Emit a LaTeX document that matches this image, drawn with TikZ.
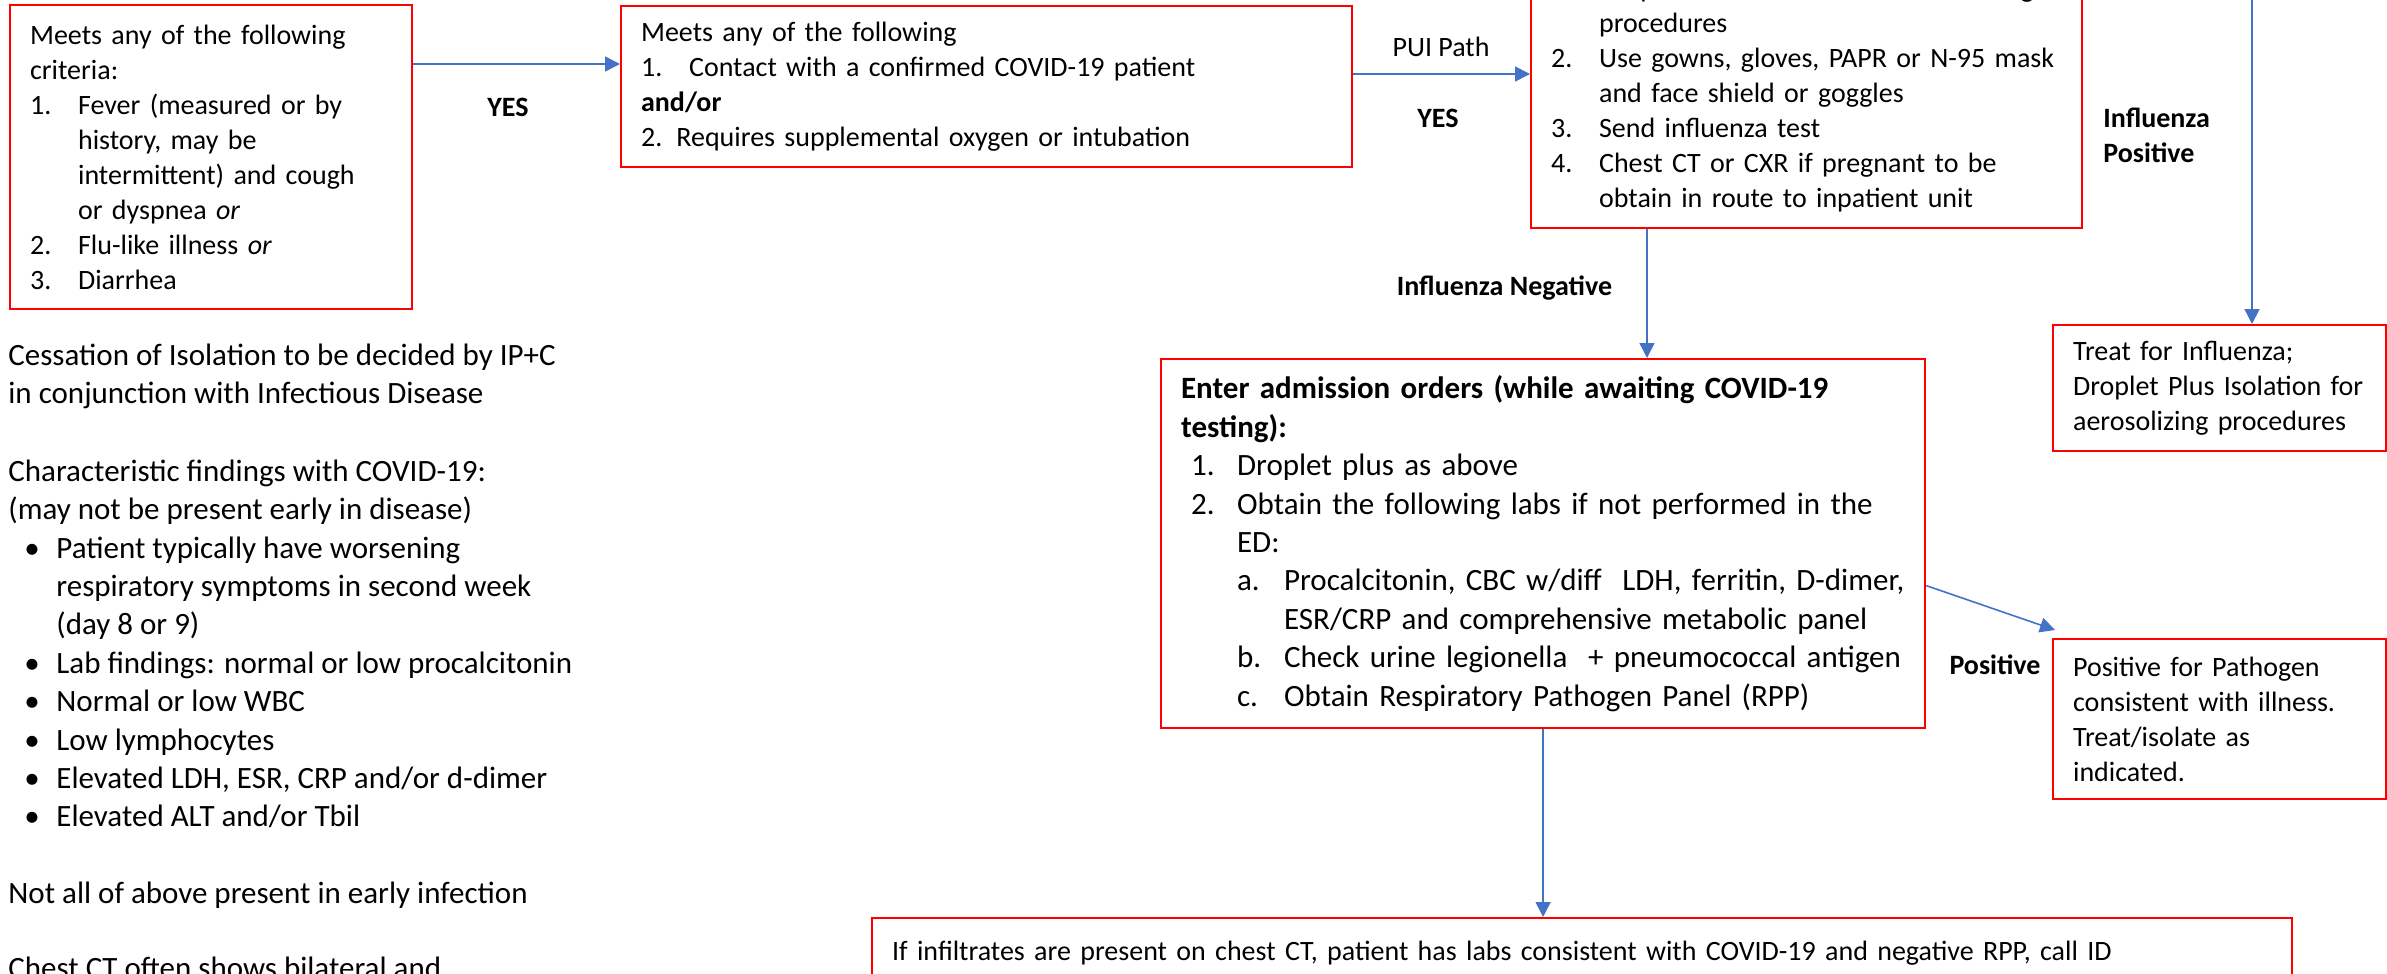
\documentclass[tikz,border=0pt]{standalone}
\usepackage{fontspec}
\setmainfont{Carlito}
\usetikzlibrary{arrows.meta}

\definecolor{boxred}{RGB}{255,0,0}
\definecolor{arrblue}{RGB}{68,114,196}

\newcommand{\itm}[3][24pt]{\makebox[#1][l]{#2}#3}
\newcommand{\cnt}[2][24pt]{\hspace*{#1}#2}
\newcommand{\blt}[1]{\hspace*{8pt}\makebox[16pt][l]{\textbullet}#1}

\begin{document}
\begin{tikzpicture}[x=0.5pt,y=-0.5pt,
  box/.style={draw=boxred, line width=1.1pt, anchor=north west, align=left,
    inner xsep=10pt, inner ysep=0pt, font=\fontsize{14}{17.5}\selectfont},
  note/.style={anchor=west, align=left, inner sep=0pt, font=\fontsize{15.5}{19.2}\selectfont},
  lbl/.style={inner sep=0pt, font=\fontsize{14}{17.5}\selectfont},
  bf/.style={font=\fontsize{14}{17.5}\selectfont\bfseries},
  arr/.style={-{Triangle[length=7.5pt,width=7.5pt]}, draw=arrblue, line width=0.8pt}]
%\draw[step=50,gray,very thin] (0,0) grid (2387,974);
\useasboundingbox[fill=white] (0,0) rectangle (2387,974);

% boxes of the flow
\node[box, text width=181pt, minimum height=152pt] (crit) at (9,4)
  {Meets any of the following\\criteria:\\
   \itm{1.}{Fever (measured or by}\\ \cnt{history, may be}\\
   \cnt{intermittent) and cough}\\ \cnt{or dyspnea \emph{or}}\\
   \itm{2.}{Flu-like illness \emph{or}}\\ \itm{3.}{Diarrhea}};
\node[box, text width=345.5pt, minimum height=80.5pt] (contact) at (620,5)
  {Meets any of the following\\
   \itm{1.}{Contact with a confirmed COVID-19 patient}\\
   \textbf{and/or}\\
   2. Requires supplemental oxygen or intubation};
\node[box, text width=255.5pt, minimum height=133.5pt] (droplet) at (1530,-40)
  {\itm{1.}{Droplet Plus Isolation for aerosolizing}\\ \cnt{procedures}\\
   \itm{2.}{Use gowns, gloves, PAPR or N-95 mask}\\ \cnt{and face shield or goggles}\\
   \itm{3.}{Send influenza test}\\
   \itm{4.}{Chest CT or CXR if pregnant to be}\\ \cnt{obtain in route to inpatient unit}};
\node[box, text width=146.5pt, minimum height=63pt] (treat) at (2052,324)
  {Treat for Influenza;\\Droplet Plus Isolation for\\aerosolizing procedures};
\node[box, text width=362pt, minimum height=184.5pt, font=\fontsize{15.5}{19.2}\selectfont] (admit) at (1160,358)
  {\textbf{Enter admission orders (while awaiting COVID-19}\\ \textbf{testing):}\\
   \cnt[5pt]{\itm[23pt]{1.}{Droplet plus as above}}\\
   \cnt[5pt]{\itm[23pt]{2.}{Obtain the following labs if not performed in the}}\\
   \cnt[28pt]{ED:}\\
   \cnt[28pt]{\itm[23.5pt]{a.}{Procalcitonin, CBC w/diff\ \ LDH, ferritin, D-dimer,}}\\
   \cnt[51.5pt]{ESR/CRP and comprehensive metabolic panel}\\
   \cnt[28pt]{\itm[23.5pt]{b.}{Check urine legionella\ \ + pneumococcal antigen}}\\
   \cnt[28pt]{\itm[23.5pt]{c.}{Obtain Respiratory Pathogen Panel (RPP)}}};
\node[box, text width=146.5pt, minimum height=80pt] (pathogen) at (2052,638)
  {Positive for Pathogen\\consistent with illness.\\Treat/isolate as\\indicated.};
\node[box, text width=690pt, minimum height=35pt] (infil) at (871,917)
  {If infiltrates are present on chest CT, patient has labs consistent with COVID-19 and negative RPP, call ID};

% notes on the left
\node[note] (cessation) at (8,376.5)
  {Cessation of Isolation to be decided by IP+C\\in conjunction with Infectious Disease};
\node[note] (findings) at (8,644)
  {Characteristic findings with COVID-19:\\(may not be present early in disease)\\
   \blt{Patient typically have worsening}\\ \cnt{respiratory symptoms in second week}\\
   \cnt{(day 8 or 9)}\\
   \blt{Lab findings: normal or low procalcitonin}\\
   \blt{Normal or low WBC}\\
   \blt{Low lymphocytes}\\
   \blt{Elevated LDH, ESR, CRP and/or d-dimer}\\
   \blt{Elevated ALT and/or Tbil}};
\node[note] (notall) at (8,895) {Not all of above present in early infection};
\node[note] (chestct) at (8,968) {Chest CT often shows bilateral and};

% labels on the connectors
\node[lbl, bf] (yes1) at (508,107) {YES};
\node[lbl] (puilbl) at (1441,47) {PUI Path};
\node[lbl, bf] (yes2) at (1438,118) {YES};
\node[lbl, bf, anchor=west, align=left] (flupos) at (2103,135.5) {Influenza\\Positive};
\node[lbl, bf] (fluneg) at (1504.5,288) {Influenza Negative};
\node[lbl, bf] (poslbl) at (1995,665) {Positive};

% connectors
\coordinate (critout) at ([yshift=-30pt]crit.north east);     % y 64
\coordinate (pui) at ([yshift=-34.5pt]contact.north east);    % y 74
\coordinate (negout) at ([xshift=58.5pt]droplet.south west);  % x 1647
\coordinate (flutop) at (2252,-20);
\draw[arr] (critout) -- (critout -| contact.west);
\draw[arr] (pui) -- (pui -| droplet.west);
\draw[arr] (negout) -- (negout |- admit.north);
\draw[arr] (flutop) -- (flutop |- treat.north);
\draw[arr] ([yshift=-21pt]admit.east) -- ([shift={(1.5pt,4pt)}]pathogen.north west);
\draw[arr] (admit.south) -- (admit.south |- infil.north);
\end{tikzpicture}
\end{document}
